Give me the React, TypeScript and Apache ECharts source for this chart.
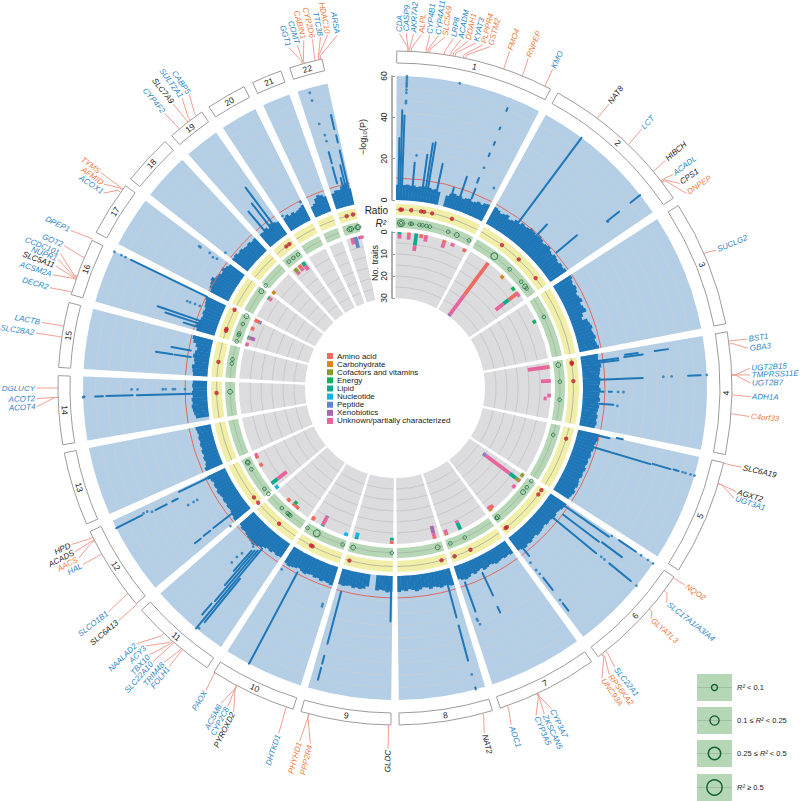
import React, { useEffect, useRef } from "react";
import * as echarts from "echarts";

const FONT = "'Liberation Sans', Arial, sans-serif";
const CENTER = [395, 388];

const CHR_NAMES = ["1","2","3","4","5","6","7","8","9","10","11","12","13","14","15","16","17","18","19","20","21","22"];
const CHR_START = [0.3,28.9,57.2,80.4,102.8,124.1,144.3,163.2,180.7,197.6,213.9,230.2,246.2,260.3,273.5,286.1,297.5,308.3,318.5,326.5,335,341.8];
const CHR_END = [27.5,55.7,79,101.4,122.7,142.9,161.8,179.3,196.2,212.5,228.8,244.8,258.9,272.1,284.7,296,306.9,317,325,333.4,340.2,347.5];

const SKYLINE = [
  [7.4,7.0,7.3,7.6,7.2,7.5,6.9,7.3,7.6,7.1,7.4,6.8,7.2,6.4,0,0,5.5,6.8,7.4,6.9,7.2,6.4,7.0,7.5,6.6,7.1,7.8,7.2,8.3,8.8],
  [9.2,8.6,7.8,8.4,9.0,7.5,8.1,9.3,8.8,10,9.4,9.9,10.8,10.2,9.6,10.9,10.1,9.2,9.8,10.4,9.3,8.8,9.7,9.1,8.6,9.4,8.9,9.6],
  [10,9.2,8.6,9.4,8.8,7.9,8.4,9.1,7.6,8.3,8.9,6.5,5.5,7.8,8.4,9,8.2,8.7,9.3,8.5,9,9.7],
  [8.5,8.2,8.9,9.4,8.7,8.4,8,8.6,8.3,7.8,8.5,8.1,7.9,8.4,7.6,8.2,7.8,7.4,8,7.6,8.1,7.5],
  [10.2,10.6,9.8,9.3,9.6,8.9,9.4,8.7,9.1,8.6,9.3,8.8,9.2,8.5,9,9.4,8.8,9.6,9.1,8.7],
  [9.4,9,8.2,7.8,8.4,8,7.6,7.9,7.1,7.6,8,8.3,7.5,7.9,8.6,8.1,8.9,8.3,7.8],
  [7.2,6.6,7,6.4,6.8,7.2,6.5,6,6.7,7.1,5.8,6.4,7,6.2,7.4,7.9,7.4,6.6],
  [8.5,8,7.6,8.2,7.5,7,7.8,6.8,6.4,7.3,7.9,7.1,6.6,7.5,7,7.8],
  [7.5,8,7.2,6.9,7.4,0,0,6,7.3,7.8,7.4,7.9,7.2,7.6,8,7.7],
  [9.4,8.9,8.5,9.1,8.3,8.7,8,8.4,9,8.6,7.8,8.5,9,9.5,8.8],
  [8,8.3,7.8,8.6,8.2,8.9,10,10.8,11.5,11,10.5,10,9.5,9.8,9],
  [9.6,9,8.6,8.2,8.5,8,8.4,7.9,8.3,8.8,8.1,8.5,7.9,8.6,9.8],
  [9,8,7.4,7.8,7.1,7.5,6.9,7.3,6.8,7.2,6.7,7.1,7.5],
  [0,6.4,7,7.4,7.8,7.2,7.6,7,7.3,6.8,7.2,6.9],
  [7,7.4,7.8,6.8,7.2,8,7.4,6.6,7.6,9.2,9.9],
  [9.2,10,9.4,8.8,8.4,9,8.6,9.3,9.8,10.4],
  [10,11.2,11.8,12.5,11,10.4,9.5,10.8,9.6,8.8],
  [9.2,9.8,8.9,9.4,8.7,8.3,8.8,8.1,8.5],
  [8,7.8,8.6,7.4,8.9,8.2,7.6],
  [7.2,7.9,6.8,7.4,6.6,7.1,7.6,8.4],
  [5.6,6.4,8.5,9.6,8.9,7.8],
  [7.8,8.8,8.6,10,11,8],
];

const P_GRID = [6,12,18,24,30,36,42,48,54];
const P_THRESHOLD = 10.6;
const TRAIT_GRID = [5,10,15,20,25];

// position on the genome track, lowest and highest -log10(P) of a run of hits
const HITS = [
  [1.5,7,43.5],[2,7,41],[1,7,30],[5,7,18.5],[7.9,7,23],[8.8,7,28.7],[9.4,7,29.5],[12,7,20],[16.4,6,10],[18.8,7,17],
  [22,8,13],[21.8,16,18.5],[22,30,31.5],[22.1,36,37.5],[22,44,45],[21.9,53.5,55],
  [36.7,9,60],[42.9,8,17],[50,11,24],[51.8,39.5,47],[51.8,54,60],
  [81.9,36,42.5],[81.8,21.5,27.7],[82.4,8,18],[82.3,21,30],[82.9,9,18],[87.7,7.5,29],[87.6,51,57],[91,8,10],[91,12.5,14],[94.4,8,15],
  [103.2,8,15.6],[102.7,19,22],[106.6,8.5,38],[106.4,39,48],[106.3,49.5,52],
  [124.8,8,35],[124.2,40,50],[127,11,32.6],[126.7,34,46],[129.4,8,35],[129.3,43,56.5],[141.4,7,13],[142,25.6,33],[142.1,41,45.6],
  [154.7,8,20],[154.9,26,29],[160.2,9,24],
  [165,8,24],[165,28,45.6],[165,59,60],
  [181.1,7,22],[194.8,11,37],[194.8,43,47],[194.8,49,55],
  [207.9,10,60],
  [219.6,10,60],[220.2,12,44],[220.8,13,35],[219.1,28,55],[221.4,14,27],[220.4,46,53],
  [232.4,8,20],[232.3,22,26],[232.2,28,31.6],[244.3,8,25],[243.3,46,60],[243,33,39],[243,27,30],
  [268.4,7,34],[268.4,36,48.8],[268.4,50.4,54.2],
  [278.6,9,17],[278.6,18,26],[280.4,9.5,19],
  [295.9,10,51],[289,8,30.5],[288.2,8,26],[287.2,8,16],
  [323.3,7,30],[320.3,7,20],[322.2,7,22],
  [346.8,37.6,44.7],[346.9,31,34.6],[346.9,8,27],[344.3,22,27.6],[344.2,12,20],[346.2,8,20],[345.5,8,14],
];

// single hits: position on the track, -log10(P)
const SINGLE_HITS = [
  [2.2,47],[2.2,48],[2.2,52],[2.2,53.5],[2.2,55],[2.2,56],[2.2,57],[2.2,58],[2.2,59],[2.2,60],[5.3,22],[12,59.8],[22,24],[26.3,17],[52,39.8],
  [87.6,39],[87.6,43],[87.6,60],[91,19.6],[91,17],[94.6,17],
  [106.3,54],[106.3,55.5],[106.3,58],[106.3,60],
  [124.3,36],[124.2,53],[124.2,57],[124.2,60],[129.3,38],[129.3,40],[129.3,60],[142.2,16],[142.2,20.5],[142.1,23],[142.1,39],
  [160.5,27.6],[160.2,30.5],[160.4,28.5],[165,52.5],
  [198.5,20.4],[198.5,19.2],[212,12.5],
  [223.1,24.6],[223.1,21],[222.8,18],[221.8,12],[219.2,59],
  [230,13],[231,8.5],[243.5,45],[243.5,43],[243,41],[240.5,24],[240.5,21],[240.5,19],
  [268.3,60],[268.4,59.5],[269.7,36.5],[269.7,33.6],[269.7,21.4],[269.7,20],[269.7,16.5],[269.7,15.5],[269.7,10.7],
  [295.9,60],[295.9,56.2],[295.9,54],[292.7,18],[292.7,16.5],[292.8,11.5],[292.8,14],
  [305.9,26],[305.9,25.2],[306.1,20],[305.7,17.5],[306,15.5],[308.6,14],[308.6,9],
  [326.8,8.5],[333,10],
  [343.9,57.7],[343.9,53.8],[344,42],[344.5,36],[344.5,33],
];

const RATIO_POINTS = [1.7,2.2,5.2,8.4,9.4,12,18.6,36.8,43.9,52,81.8,82.2,87.8,106.5,124.9,126.6,141.2,141.7,155,160.5,164.9,194.8,207.5,208.1,220.5,230,232.2,268.4,278.4,288.7,289.3,296,322.5,323.7,344.3,346.4];

// position on the track, size class of R2
const R2_POINTS = [
  [2.1,2],[2.1,0],[5.3,0],[5.9,0],[8.5,0],[9.6,0],[11,0],[12.2,0],[18.8,0],[22,1],[26.6,0],[37,2],[44,0],[49.9,0],[52,1],[52.9,0],[64.5,0],
  [82,1],[87.8,0],[94.1,0],[106.5,0],[124.3,0],[127,0],[129.1,1],[141.5,1],[142,0],[155,0],[160.4,0],[165,1],[181.1,0],[194.7,1],[198.5,0],[208.3,2],[212,0],
  [219.4,0],[220,0],[220.6,0],[223.3,0],[230.1,0],[232.3,0],[240.5,0],[243.1,1],[243.3,0],[268.7,1],[278.5,0],[280,0],[286.4,0],[288.7,0],[289.3,0],[292.8,0],[295.8,1],
  [305.9,1],[308.4,0],[320,0],[322,0],[324,0],[344,1],[344.6,1],[346.8,1],[347.2,1],
];

const TRAIT_CLASSES = ["Amino acid","Carbohydrate","Cofactors and vitamins","Energy","Lipid","Nucleotide","Peptide","Xenobiotics","Unknown/partially characterized"];
const TRAIT_COLORS = ["#ee6b5f","#d08a1c","#8b9b2c","#12b25c","#12a88c","#0fb3e6","#5f86c8","#a968ad","#e8649f"];

// position on the track, from, to, index of the class
const TRAIT_SEGMENTS = [
  [1.7,0,1.2,4],[1.7,1.2,3,8],[5.2,0,1.2,0],[5.2,1.2,3.2,8],[7.9,0,5.5,4],[7.9,5.5,8,8],[9.8,0,1.8,0],[11.6,0,3,8],
  [18.6,0,1.5,0],[18.6,1.5,3.6,8],[21.9,0,1.6,8],[26.7,0,1.6,0],
  [36.7,0,18,0],[36.7,18,29,8],[36.7,29,30,7],[44,0,1.6,1],[50,0,1.6,3],[52.2,0,5.5,0],[52.2,5.5,8.5,4],[52.2,8.5,13,8],[53,0,1.5,8],[64.6,0,1.6,3],
  [82.2,0,1.4,0],[82.2,1.4,10,8],[87.4,0,4.5,8],[92.8,0,1.6,8],[94,1.8,3.2,8],
  [126.7,0,1,0],[126.7,1,2.5,2],[126.7,2.5,6,4],[126.7,6,19.5,8],[126.7,19.5,20.3,6],[126.7,20.3,21,7],[124.4,0,1.6,2],[129.6,0,1.6,8],
  [141.8,0,1.2,1],[141.8,1.2,2.5,8],[140.8,0.5,2.2,0],
  [155.2,0,3.5,4],[155.2,3.5,4.6,8],[160.6,0,1.2,0],[160.6,1.2,2.6,8],[165.2,0,1.2,0],[165.2,1.2,2.6,8],[165.2,2.6,6,7],
  [181.2,0,1.6,0],[181.2,1.6,2.8,4],[194.4,0,1,4],[194.4,1,3,5],[198.5,0,1.6,5],
  [207.8,0,0.6,4],[207.8,0.6,4.5,8],[207.8,4.5,5.2,7],[212,0,2,0],
  [219.3,0,1.6,0],[220.8,0,1.2,0],[220.8,1.2,2.8,3],[223.5,0,1.6,0],[230,0,1.6,5],[232.3,0,3.5,4],[232.3,3.5,8.7,8],[240.2,0,1.6,0],[243.6,0,1.6,0],[244.3,0.3,1.6,8],
  [286.4,0,1.6,8],[289,0,0.6,4],[289,0.6,1.2,0],[289,1.2,3.6,7],[292.6,0,1.6,0],[295.9,0,2.6,0],[295.9,2.6,3.4,6],
  [305.5,0,0.6,4],[305.5,0.6,1.2,0],[305.5,1.2,2.2,8],[308.2,0,1.6,1],
  [320,0,2.2,2],[320,2.2,3.4,8],[322,0,2,0],[322,2,3.2,8],[323.7,0,2,4],[323.7,2,4.3,8],
  [344,0,3,8],[345.3,0,5,6],[347,0,1.4,7],[347.6,0,1.4,8],
];

const GENES = ["CDA","CASP9","AKR7A2","ALPL","CYP4B1","CYP4A11","SLC5A9","LRP8","ACADM","DDAH1","KYAT3","PLPPR4","GSTM2","FMO4","RNPEP","KMO",
  "NAT8","LCT","HIBCH","ACADL","CPS1","DNPEP","SUCLG2",
  "BST1","GBA3","UGT2B15","TMPRSS11E","UGT2B7","ADH1A","C4orf33",
  "SLC6A19","AGXT2","UGT3A1",
  "NQO2","SLC17A1/A3/A4","GLYATL3","SLC22A1","RPS6KA2","UNC93A",
  "AOC1","CYP3A7","ZKSCAN5","CYP3A5","NAT2","GLDC","PHYHD1","PPP2R4",
  "DHTKD1","PYROXD2","CYP2C8","ACSM6","PAOX",
  "FOLH1","TRIM48","SLC22A10","TBX10","ACY3","NAALAD2",
  "SLC6A13","SLCO1B1","HAL","AACS","ACADS","HPD",
  "ACOT4","ACOT2","DGLUCY","SLC28A2","LACTB",
  "DECR2","ACSM2A","SLC5A11","NUPR1","CCDC101","GOT2","DPEP1",
  "ACOX1","AFMID","TYMS",
  "CYP4F2","SLC7A9","SULT2A1","CABP5",
  "GGT1","COMT","CABIN1","CYP2D6","TTC38","HDAC10","ARSA"];
// track position of the gene, of its label, distance of the label from the inner edge of the ring, colour group (0 blue, 1 orange, 2 black)
const GENE_PLACES = [
  [2.2,0.7,31,0],[2.2,1.8,32,0],[2.5,3,31,0],[2.8,4.3,31,1],[5.3,5.6,31,0],[5.6,7,31,0],[5.9,8.1,31,1],[8.4,9.5,31,0],[9.5,10.7,31,0],[9.9,11.9,31,1],[10.3,13.2,31,0],[11.7,14.4,31,1],[12.1,15.6,31,1],[18.8,18.8,32,1],[22.2,22,32,1],[26.4,26.3,32,0],
  [36.9,37,32,2],[43.8,43.6,34,0],[50,49.9,30,2],[52.1,52.5,27,0],[52.3,54.3,27,2],[52.5,56.3,27,1],[66.5,66.8,26,0],
  [82,82.1,32,0],[82.5,83.6,32,0],[87.8,86.8,32,0],[87.8,87.9,32,0],[87.8,89.2,32,0],[91.2,91.4,32,0],[94.4,94.6,32,1],
  [102.9,102.9,32,2],[106.5,106.9,33,2],[106.5,108,33,0],
  [124.3,124.2,27,1],[127,128.3,23,0],[131,132,21,1],[141.3,141.8,32,0],[142,143.2,34,1],[142.2,144.5,33,1],
  [160.5,161,33,0],[154.9,154,33,0],[155,155.4,35,0],[155.1,156.7,33,0],[164.9,165.5,33,2],[181.1,181.1,37,2],[194.8,195.1,42,1],[194.8,193.4,42,1],
  [198.8,198.6,41,0],[208,206.5,38,2],[208,207.7,36,0],[208,208.9,37,0],[212.3,212,33,0],
  [219.1,219,35,0],[219.4,220.1,35,0],[221,221.5,42,0],[221.3,222.6,39,0],[221.6,224,35,0],[223.3,225.3,40,0],
  [230,229.9,38,2],[232.4,232,40,0],[240.5,240.5,35,0],[243,241.7,36,1],[243.2,242.9,36,2],[243.7,244.2,36,2],
  [268.4,267,35,0],[268.4,268.3,35,0],[270,270,35,0],[278.7,278.7,40,0],[280.6,280.5,36,0],
  [286.5,286.2,36,0],[288.8,288.3,37,0],[289,289.8,37,2],[289.2,290.9,37,0],[289.4,291.9,37,0],[292.8,293.3,37,0],[296.2,295.9,37,0],
  [305.5,303.8,27,0],[306,305,32,1],[306.2,306.2,41,1],
  [320.2,320,35,0],[322.1,322,37,2],[322.6,323.7,36,0],[323.9,325,35,0],
  [344,342.7,33,0],[344.2,344.1,33,0],[344.4,345.3,36,1],[346.3,346.7,35,1],[347,348,35,0],[347,349.2,36,1],[347.3,350.7,34,0],
];
const GENE_COLORS = ["#2e86c4","#ef7a3e","#222222"];

const R2_CLASSES = ["{i|R²} < 0.1","0.1 ≤ {i|R²} < 0.25","0.25 ≤ {i|R²} < 0.5","{i|R²} ≥ 0.5"];
const R2_RADII = [3,4.6,6.2,7.6];
const R2_SYMBOLS = [3.6,4.8,6.8,8.4];

const LINE_STYLE = (stroke: string, lineWidth = 0.8) => ({ fill: "none", stroke, lineWidth });

function sector(params: any, api: any, rA: number, rB: number, a0: number, a1: number, style: any) {
  const cs = params.coordSys;
  const p0 = api.coord([rA, a0]);
  const p1 = api.coord([rB, a1]);
  const q0 = api.coord([rA, a1]);
  let s = Math.atan2(p0[1] - cs.cy, p0[0] - cs.cx);
  let e = Math.atan2(q0[1] - cs.cy, q0[0] - cs.cx);
  if (e < s) e += Math.PI * 2;
  return {
    type: "sector",
    shape: {
      cx: cs.cx, cy: cs.cy,
      r0: Math.hypot(p0[0] - cs.cx, p0[1] - cs.cy),
      r: Math.hypot(p1[0] - cs.cx, p1[1] - cs.cy),
      startAngle: s, endAngle: e, clockwise: true,
    },
    style,
  };
}

function arc(params: any, api: any, rv: number, a0: number, a1: number, style: any) {
  const cs = params.coordSys;
  const p0 = api.coord([rv, a0]);
  const p1 = api.coord([rv, a1]);
  let s = Math.atan2(p0[1] - cs.cy, p0[0] - cs.cx);
  let e = Math.atan2(p1[1] - cs.cy, p1[0] - cs.cx);
  if (e < s) e += Math.PI * 2;
  return {
    type: "arc",
    shape: { cx: cs.cx, cy: cs.cy, r: Math.hypot(p0[0] - cs.cx, p0[1] - cs.cy), startAngle: s, endAngle: e, clockwise: true },
    style,
  };
}

const custom = (polarIndex: number, data: any[], renderItem: any) => ({
  type: "custom", coordinateSystem: "polar", polarIndex, data, renderItem, silent: true, clip: false,
  encode: { radius: 0, angle: 1 },
});

const chrData = CHR_NAMES.map((_, i) => [0, CHR_START[i]]);

function trackSeries(polarIndex: number, lo: number, hi: number, fill: string, levels: number[], lineColor: string) {
  return [
    custom(polarIndex, chrData, (p: any, api: any) =>
      sector(p, api, lo, hi, CHR_START[p.dataIndex], CHR_END[p.dataIndex], { fill })),
    custom(polarIndex, chrData, (p: any, api: any) => ({
      type: "group",
      children: levels.map((v) => arc(p, api, v, CHR_START[p.dataIndex], CHR_END[p.dataIndex], LINE_STYLE(lineColor, 0.8))),
    })),
  ];
}

const skylineBins: number[][] = [];
SKYLINE.forEach((bins, c) => {
  const step = (CHR_END[c] - CHR_START[c]) / bins.length;
  bins.forEach((v, i) => skylineBins.push([v, CHR_START[c] + i * step, CHR_START[c] + (i + 1) * step]));
});

export default function App() {
  const ref = useRef<HTMLDivElement>(null);
  useEffect(() => {
    const chart = echarts.init(ref.current!, undefined, { renderer: "svg" });
    const polarOf = (r0: number, r1: number) => ({ center: CENTER, radius: [r0, r1] });
    const angleAxisOf = (polarIndex: number) => ({ polarIndex, type: "value", min: 0, max: 360, startAngle: 90, clockwise: true, show: false });
    const radiusAxisOf = (polarIndex: number, min: number, max: number, inverse = false) => ({ polarIndex, type: "value", min, max, inverse, show: false });

    const ratioCenter = 0.5;
    const r2Center = 0.5;

    const series: any[] = [
      // Manhattan track
      ...trackSeries(0, 0, 60, "#b4cfe5", P_GRID, "#c7ced4"),
      custom(0, skylineBins, (p: any, api: any) => {
        const b = skylineBins[p.dataIndex];
        if (!b[0]) return null;
        return sector(p, api, 0, b[0], b[1], Math.min(b[2] + 0.1, CHR_END[CHR_END.findIndex((e) => e >= b[2] - 1e-6)]), { fill: "#1f77b8" });
      }),
      custom(0, chrData, (p: any, api: any) =>
        arc(p, api, P_THRESHOLD, CHR_START[p.dataIndex], CHR_END[p.dataIndex], LINE_STYLE("#e3685e", 1))),
      custom(0, HITS.map((h) => [h[1], h[0]]), (p: any, api: any) => {
        const h = HITS[p.dataIndex];
        const a = api.coord([h[1], h[0]]);
        const b = api.coord([h[2], h[0]]);
        return { type: "line", shape: { x1: a[0], y1: a[1], x2: b[0], y2: b[1] }, style: { stroke: "#1f77b8", lineWidth: 2, lineCap: "round" } };
      }),
      {
        type: "scatter", coordinateSystem: "polar", polarIndex: 0, silent: true, symbolSize: 2.8, clip: false,
        itemStyle: { color: "#1f77b8" },
        data: SINGLE_HITS.map((d) => [d[1], d[0]]),
      },
      // ratio track
      ...trackSeries(1, 0, 1, "#f1efa7", [ratioCenter], "#a9a9a0"),
      {
        type: "scatter", coordinateSystem: "polar", polarIndex: 1, silent: true, symbolSize: 4.4, clip: false,
        itemStyle: { color: "#c31f30" },
        data: RATIO_POINTS.map((a) => [ratioCenter, a]),
      },
      // R2 track
      ...trackSeries(2, 0, 1, "#b6d7b6", [r2Center], "#a3b4a3"),
      {
        type: "scatter", coordinateSystem: "polar", polarIndex: 2, silent: true, clip: false,
        symbolSize: (v: number[]) => R2_SYMBOLS[v[2]],
        itemStyle: { color: "transparent", borderColor: "#146c3a", borderWidth: 1 },
        data: R2_POINTS.map((d) => [r2Center, d[0], d[1]]),
      },
      // number of traits track
      ...trackSeries(3, 0, 30, "#dcdcde", TRAIT_GRID, "#c3c3c6"),
      custom(3, TRAIT_SEGMENTS.map((t) => [t[1], t[0]]), (p: any, api: any) => {
        const t = TRAIT_SEGMENTS[p.dataIndex];
        const a = api.coord([t[1], t[0]]);
        const b = api.coord([t[2], t[0]]);
        return { type: "line", shape: { x1: a[0], y1: a[1], x2: b[0], y2: b[1] }, style: { stroke: TRAIT_COLORS[t[3]], lineWidth: 3.8, lineCap: "butt" } };
      }),
      // chromosome ring and labels
      custom(4, chrData, (p: any, api: any) => {
        const i = p.dataIndex;
        const mid = (CHR_START[i] + CHR_END[i]) / 2;
        const c = api.coord([6, mid]);
        const rot = mid <= 90 ? -mid : mid <= 270 ? 180 - mid : 360 - mid;
        return {
          type: "group",
          children: [
            sector(p, api, 0, 12, CHR_START[i], CHR_END[i], { fill: "#ffffff", stroke: "#9c9c9c", lineWidth: 1 }),
            {
              type: "text", x: c[0], y: c[1], rotation: (rot * Math.PI) / 180,
              style: { text: CHR_NAMES[i], x: 0, y: 0, align: "center", verticalAlign: "middle", fill: "#222", font: `8.5px ${FONT}` },
            },
          ],
        };
      }),
      custom(4, GENE_PLACES.map((g) => [12, g[0]]), (p: any, api: any) => {
        const g = GENE_PLACES[p.dataIndex];
        const pos = g[0], lab = g[1], out = g[2];
        const a = api.coord([12, pos]);
        const b = api.coord([15.5, pos]);
        const c = api.coord([out - 1.5, lab]);
        const t = api.coord([out, lab]);
        const left = lab > 180;
        const deg = left ? 270 - lab : 90 - lab;
        return {
          type: "group",
          children: [
            { type: "polyline", shape: { points: [a, b, c] }, style: LINE_STYLE("#ef9384", 0.9) },
            {
              type: "text", x: t[0], y: t[1], rotation: (deg * Math.PI) / 180,
              style: {
                text: GENES[p.dataIndex], x: 0, y: 0, align: left ? "right" : "left", verticalAlign: "middle",
                fill: GENE_COLORS[g[3]], font: `italic 8px ${FONT}`,
              },
            },
          ],
        };
      }),
    ];

    const graphic: any[] = [];
    TRAIT_CLASSES.forEach((name, i) => {
      const y = 356 + i * 8.12;
      graphic.push({ type: "rect", shape: { x: 327, y: y - 3, width: 6, height: 6 }, style: { fill: TRAIT_COLORS[i] } });
      graphic.push({ type: "text", x: 337, y, style: { text: name, fill: "#222", font: `8px ${FONT}`, verticalAlign: "middle", align: "left" } });
    });
    R2_CLASSES.forEach((name, i) => {
      const top = [674, 707, 740, 774][i];
      const cy = top + 13.5;
      graphic.push({ type: "rect", shape: { x: 697, y: top, width: 35, height: 27 }, style: { fill: "#b6d7b6" } });
      graphic.push({ type: "line", shape: { x1: 697, y1: cy, x2: 732, y2: cy }, style: { stroke: "#a3b4a3", lineWidth: 0.8 } });
      graphic.push({ type: "circle", shape: { cx: 714.5, cy, r: R2_RADII[i] }, style: { fill: "none", stroke: "#0e5f33", lineWidth: 1.4 } });
      graphic.push({
        type: "text", x: 737, y: cy,
        style: {
          text: name, fill: "#222", font: `7.5px ${FONT}`, verticalAlign: "middle", align: "left",
          rich: { i: { fontStyle: "italic", fontSize: 7.5, fontFamily: "Liberation Sans", fill: "#222" } },
        },
      });
    });
    graphic.push({ type: "text", x: 388, y: 210, style: { text: "Ratio", fill: "#222", font: `10px ${FONT}`, align: "right", verticalAlign: "middle" } });
    graphic.push({ type: "text", x: 386, y: 223, style: { text: "R²", fill: "#222", font: `italic 10px ${FONT}`, align: "right", verticalAlign: "middle" } });
    graphic.push({ type: "text", x: 375, y: 263, rotation: Math.PI / 2, style: { text: "No. traits", fill: "#222", font: `9px ${FONT}`, align: "center", verticalAlign: "middle" } });
    graphic.push({ type: "text", x: 363, y: 137, rotation: Math.PI / 2, style: { text: "−log₁₀(P)", fill: "#222", font: `9px ${FONT}`, align: "center", verticalAlign: "middle" } });

    const yAxisOf = (gridIndex: number, max: number, inverse: boolean) => ({
      gridIndex, type: "value", min: 0, max, interval: max === 60 ? 20 : 10, inverse, position: "left",
      axisLine: { show: true, lineStyle: { color: "#9a9a9a", width: 1.6 } },
      axisTick: { show: true, inside: true, length: 3, lineStyle: { color: "#9a9a9a", width: 1 } },
      axisLabel: { rotate: 90, fontSize: 8.5, margin: 4, color: "#222", fontFamily: "Liberation Sans" },
      splitLine: { show: false },
    });

    chart.setOption({
      animation: false,
      backgroundColor: "#ffffff",
      polar: [polarOf(188, 312), polarOf(173, 184), polarOf(160, 170), polarOf(90, 156), polarOf(325, 425)],
      angleAxis: [0, 1, 2, 3, 4].map(angleAxisOf),
      radiusAxis: [radiusAxisOf(0, 0, 60), radiusAxisOf(1, 0, 1), radiusAxisOf(2, 0, 1), radiusAxisOf(3, 0, 30, true), radiusAxisOf(4, 0, 100)],
      grid: [
        { left: 392, top: 76, width: 1, height: 124 },
        { left: 392, top: 232, width: 1, height: 66 },
      ],
      xAxis: [
        { gridIndex: 0, type: "value", min: 0, max: 1, show: false },
        { gridIndex: 1, type: "value", min: 0, max: 1, show: false },
      ],
      yAxis: [yAxisOf(0, 60, false), yAxisOf(1, 30, true)],
      graphic,
      series,
    });
    return () => chart.dispose();
  }, []);
  return <div ref={ref} style={{ position: "absolute", left: 0, top: 0, width: 800, height: 801 }} />;
}
